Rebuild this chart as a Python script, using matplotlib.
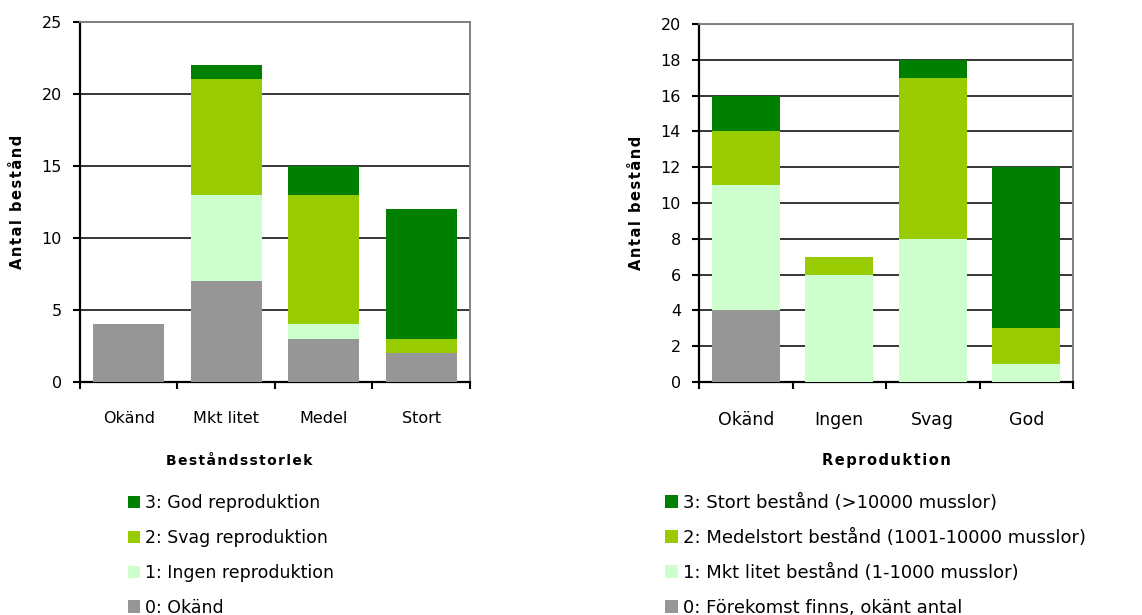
import matplotlib
matplotlib.use('Agg')
import matplotlib.pyplot as plt
from matplotlib.patches import Patch
import numpy as np

# Bestånd per storleksklass, uppdelat på reproduktion
size_cats = ['Okänd', 'Mkt litet', 'Medel', 'Stort']
size_okand = [4, 7, 3, 2]
size_ingen = [0, 6, 1, 0]
size_svag = [0, 8, 9, 1]
size_god = [0, 1, 2, 9]
size_labels = ['0: Okänd', '1: Ingen reproduktion',
               '2: Svag reproduktion', '3: God reproduktion']

# Bestånd per reproduktionsklass, uppdelat på beståndsstorlek
repr_cats = ['Okänd', 'Ingen', 'Svag', 'God']
repr_okant = [4, 0, 0, 0]
repr_litet = [7, 6, 8, 1]
repr_medel = [3, 1, 9, 2]
repr_stort = [2, 0, 1, 9]
repr_labels = ['0: Förekomst finns, okänt antal',
               '1: Mkt litet bestånd (1-1000 musslor)',
               '2: Medelstort bestånd (1001-10000 musslor)',
               '3: Stort bestånd (>10000 musslor)']

colors = ['#969696', '#CCFFCC', '#99CC00', '#008000']

plt.rcParams['font.family'] = ['DejaVu Sans']


def spaced(s):
    # glesare teckenavstånd för rubrikerna
    return '\u200a'.join(s)


fig = plt.figure(figsize=(11.42, 6.15), dpi=100)
ax1 = fig.add_axes([0.070, 0.379, 0.3415, 0.5854])
ax2 = fig.add_axes([0.6121, 0.379, 0.3275, 0.582])


def stacked(ax, cats, series, ymax, ystep, xsize):
    x = np.arange(len(cats))
    bottom = np.zeros(len(cats))
    for vals, c in zip(series, colors):
        ax.bar(x, vals, 0.73, bottom=bottom, color=c, zorder=3)
        bottom += np.array(vals)
    ax.set_xlim(-0.5, len(cats) - 0.5)
    ax.set_ylim(0, ymax)
    ax.set_yticks(np.arange(0, ymax + 1, ystep))
    ax.yaxis.grid(True, color='black', linewidth=1.1, zorder=1)
    ax.set_axisbelow(True)
    ax.set_xticks(x)
    ax.set_xticklabels(cats, fontsize=xsize)
    ax.set_xticks(np.arange(-0.5, len(cats)), minor=True)
    ax.tick_params(axis='x', which='major', length=0, pad=21)
    ax.tick_params(axis='x', which='minor', length=5, width=1.5, direction='out')
    ax.tick_params(axis='y', length=5, width=1.5, pad=8, labelsize=11.5)
    for s in ['left', 'bottom']:
        ax.spines[s].set_color('black')
        ax.spines[s].set_linewidth(1.6)
    for s in ['top', 'right']:
        ax.spines[s].set_color('#808080')
        ax.spines[s].set_linewidth(1.4)
    ax.set_ylabel(spaced('Antal bestånd'), fontsize=10.5, fontweight='bold',
                  labelpad=12)


stacked(ax1, size_cats, [size_okand, size_ingen, size_svag, size_god], 25, 5, 11.5)
stacked(ax2, repr_cats, [repr_okant, repr_litet, repr_medel, repr_stort], 20, 2, 12.5)

fig.text(239 / 1142, 1 - 461 / 615, spaced('Beståndsstorlek'), ha='center',
         va='center', fontsize=10, fontweight='bold')
fig.text(886 / 1142, 1 - 461 / 615, spaced('Reproduktion'), ha='center',
         va='center', fontsize=10.5, fontweight='bold')


def legend(anchor_x, top_px, labels, size, spacing):
    handles = [Patch(facecolor=c, edgecolor='none') for c in colors][::-1]
    fig.legend(handles, labels[::-1], loc='upper left',
               bbox_to_anchor=(anchor_x, 1 - top_px / 615), frameon=False,
               fontsize=size, handlelength=0.7, handleheight=0.7,
               handletextpad=0.3, labelspacing=spacing, borderpad=0,
               borderaxespad=0)


legend(128 / 1142, 494, size_labels, 12.5, 0.97)
legend(665 / 1142, 494, repr_labels, 13, 0.93)

fig.savefig('out.png', dpi=100)
